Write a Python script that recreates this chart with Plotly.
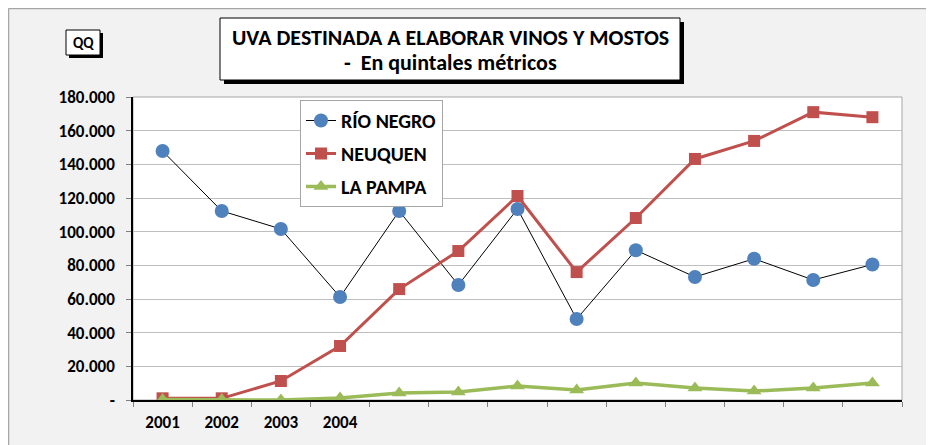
import plotly.graph_objects as go

# Data
years = ['2001', '2002', '2003', '2004', '2005', '2006', '2007',
         '2008', '2009', '2010', '2011', '2012', '2013']
year_labels = ['2001', '2002', '2003', '2004', '', '', '', '', '', '', '', '', '']
rio_negro = [147900, 112300, 101600, 61200, 112300, 68300, 113500,
             48100, 89000, 73100, 83900, 71300, 80500]
neuquen = [1000, 1000, 11300, 32100, 65900, 88500, 121200,
           76000, 108100, 143200, 153900, 171000, 168000]
la_pampa = [300, 300, 0, 1200, 4200, 4800, 8300,
            5900, 10100, 7100, 5300, 7100, 10100]
y_ticks = [0, 20000, 40000, 60000, 80000, 100000, 120000, 140000, 160000, 180000]
y_labels = ['-', '20.000', '40.000', '60.000', '80.000', '100.000',
            '120.000', '140.000', '160.000', '180.000']

FONT = 'Carlito, Lato, sans-serif'

fig = go.Figure()
fig.add_trace(go.Scatter(
    x=years, y=rio_negro, name='<b>RÍO NEGRO</b>', mode='lines+markers',
    line=dict(color='black', width=1),
    marker=dict(symbol='circle', size=14, color='#4F81BD'),
    legendgroup='a'))
fig.add_trace(go.Scatter(
    x=years, y=neuquen, name='<b>NEUQUEN</b>', mode='lines+markers',
    line=dict(color='#C0504D', width=3),
    marker=dict(symbol='square', size=12, color='#C0504D'),
    legendgroup='b'))
fig.add_trace(go.Scatter(
    x=years, y=la_pampa, name='<b>LA PAMPA</b>', mode='lines+markers',
    line=dict(color='#9BBB59', width=3.5),
    marker=dict(symbol='triangle-up', size=13, color='#9BBB59'),
    legendgroup='c'))

# screen px -> paper helpers (plot area 133..902 x, 97..400 y on screen;
# the page has an 8px body margin, so the figure starts at screen 8,8)
def px_x(v):
    return (v - 133) / 769

def px_y(v):
    return (400 - v) / 303

shapes = [
    # plot area border
    dict(type='rect', xref='paper', yref='paper', x0=0, x1=1, y0=0, y1=1,
         line=dict(color='#A6A6A6', width=1), layer='below'),
    # chart outer border
    dict(type='line', xref='paper', yref='paper', x0=px_x(8.5), x1=px_x(8.5),
         y0=px_y(453), y1=px_y(8.5), line=dict(color='#A6A6A6', width=1.5)),
    dict(type='line', xref='paper', yref='paper', x0=px_x(8.5), x1=px_x(942),
         y0=px_y(8.5), y1=px_y(8.5), line=dict(color='#A6A6A6', width=1.5)),
    # title box shadow + box
    dict(type='rect', xref='paper', yref='paper', x0=px_x(224), x1=px_x(684),
         y0=px_y(84), y1=px_y(22), fillcolor='black', line=dict(width=0)),
    dict(type='rect', xref='paper', yref='paper', x0=px_x(220), x1=px_x(680),
         y0=px_y(80), y1=px_y(18), fillcolor='white',
         line=dict(color='black', width=1)),
    # QQ box shadow + box
    dict(type='rect', xref='paper', yref='paper', x0=px_x(69), x1=px_x(103),
         y0=px_y(58), y1=px_y(33), fillcolor='black', line=dict(width=0)),
    dict(type='rect', xref='paper', yref='paper', x0=px_x(66), x1=px_x(100),
         y0=px_y(55), y1=px_y(30), fillcolor='white',
         line=dict(color='black', width=1)),
]

annotations = [
    dict(text='<b>UVA DESTINADA A ELABORAR VINOS Y MOSTOS</b>', xref='paper', yref='paper',
         x=px_x(450), y=px_y(37), xanchor='center', yanchor='middle', showarrow=False,
         font=dict(size=22, color='black', family=FONT)),
    dict(text='<b>-  En quintales métricos</b>', xref='paper', yref='paper',
         x=px_x(450), y=px_y(63), xanchor='center', yanchor='middle', showarrow=False,
         font=dict(size=22, color='black', family=FONT)),
    dict(text='<b>QQ</b>', xref='paper', yref='paper',
         x=px_x(83), y=px_y(42.5), xanchor='center', yanchor='middle', showarrow=False,
         font=dict(size=15, color='black', family=FONT)),
]

fig.update_layout(
    width=934, height=445,
    margin=dict(l=125, r=40, t=89, b=53),
    paper_bgcolor='#F2F2F2', plot_bgcolor='white',
    font=dict(family=FONT, color='black'),
    shapes=shapes, annotations=annotations,
    legend=dict(x=px_x(300), y=px_y(100), xanchor='left', yanchor='top',
                bgcolor='white', bordercolor='#A6A6A6', borderwidth=1,
                font=dict(size=20, family=FONT), tracegroupgap=4,
                itemwidth=30),
)
fig.update_xaxes(
    type='category', tickmode='array', tickvals=years,
    ticktext=['<b>%s</b>' % t if t else '' for t in year_labels],
    tickson='boundaries', ticks='outside', ticklen=5, tickcolor='#808080',
    showline=True, linecolor='black', linewidth=1.5, showgrid=False,
    tickfont=dict(size=17, family=FONT), ticklabelstandoff=6,
    range=[-0.5, 12.5],
)
fig.update_yaxes(
    range=[0, 180000], tickmode='array', tickvals=y_ticks,
    ticktext=['<b>%s</b>' % t for t in y_labels],
    ticks='outside', ticklen=5, tickcolor='#808080',
    showline=True, linecolor='black', linewidth=1.5,
    showgrid=True, gridcolor='#BFBFBF', gridwidth=1, zeroline=False,
    tickfont=dict(size=17, family=FONT), ticklabelstandoff=8,
)

fig.write_html('out.html')
